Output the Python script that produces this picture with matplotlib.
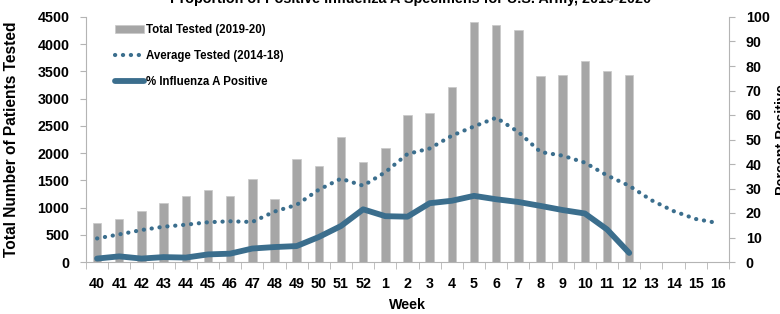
import numpy as np
import matplotlib
matplotlib.use('Agg')
import matplotlib.pyplot as plt

plt.rcParams['font.family'] = ['Liberation Sans', 'DejaVu Sans']
plt.rcParams['font.weight'] = 'bold'

weeks = ['40', '41', '42', '43', '44', '45', '46', '47', '48', '49', '50', '51', '52',
         '1', '2', '3', '4', '5', '6', '7', '8', '9', '10', '11', '12', '13', '14', '15', '16']
total_tested = [710, 785, 940, 1075, 1205, 1320, 1220, 1530, 1165, 1895, 1770, 2300, 1830,
                2090, 2700, 2740, 3220, 4400, 4360, 4270, 3420, 3430, 3690, 3510, 3430]
avg_tested = [433, 507, 587, 648, 685, 730, 748, 735, 926, 1050, 1328, 1531, 1401,
              1650, 1984, 2085, 2320, 2490, 2650, 2388, 2020, 1953, 1825, 1590, 1400,
              1135, 935, 790, 715]
pct_pos = [1.4, 2.3, 1.4, 2.0, 1.8, 3.1, 3.4, 5.5, 6.1, 6.5, 10.2, 14.7, 21.5,
           18.7, 18.5, 24.0, 25.0, 27.0, 25.6, 24.5, 22.9, 21.2, 19.8, 13.3, 3.7]

blue = '#3b6e8d'
grey = '#a6a6a6'
axis_col = '#b4b4b4'
fs = 10.3

fig = plt.figure(figsize=(7.8, 3.14), dpi=100)
ax = fig.add_axes([86/780, 1 - 262/314, (729-86)/780, (262-17)/314])
ax2 = ax.twinx()

x = np.arange(len(weeks))
bars = ax.bar(x[:len(total_tested)], total_tested, width=0.38, color=grey,
              edgecolor='#c8c8c8', linewidth=0.5, zorder=2)
avg_line, = ax.plot(x, avg_tested, color=blue, lw=3, linestyle=(0, (0.05, 1.85)),
                    dash_capstyle='round', zorder=3)
pct_line, = ax2.plot(x[:len(pct_pos)], pct_pos, color=blue, lw=4.2,
                     solid_joinstyle='round', solid_capstyle='round', zorder=4)

ax.set_xlim(-0.5, len(weeks) - 0.5)
ax.set_ylim(0, 4500)
ax2.set_ylim(0, 100)
ax.set_yticks(np.arange(0, 4501, 500))
ax2.set_yticks(np.arange(0, 101, 10))
ax.set_xticks(x)
ax.set_xticklabels(weeks)
ax.set_xticks(np.arange(-0.5, len(weeks)), minor=True)

for a in (ax, ax2):
    for s in a.spines.values():
        s.set_color(axis_col)
    a.spines['top'].set_visible(False)
ax.spines['right'].set_visible(False)
ax2.spines['left'].set_visible(False)
ax2.spines['bottom'].set_visible(False)

ax.tick_params(axis='x', which='major', length=0, pad=11, labelsize=fs)
ax.tick_params(axis='x', which='minor', length=5, color=axis_col)
ax.tick_params(axis='y', length=4, color=axis_col, pad=8, labelsize=fs)
ax2.tick_params(axis='y', length=4, color=axis_col, pad=8, labelsize=fs)

ax.set_xlabel('Week', fontsize=fs, fontweight='bold', labelpad=5)
ylab = ax.set_ylabel('Total Number of Patients Tested', fontsize=fs, fontweight='bold')
ax.yaxis.set_label_coords((19 - 86) / 643, 0.5)
ax2.set_ylabel('Percent Positive', fontsize=fs, fontweight='bold')
ax2.yaxis.set_label_coords((775 - 86) / 643, 0.5)

title = fig.text(411/780, 1 - 3.5/314,
                 'Proportion of Positive Influenza A Specimens for U.S. Army, 2019-2020',
                 ha='center', va='baseline', fontsize=fs, fontweight='bold')

ax2.legend([bars, avg_line, pct_line],
           ['Total Tested (2019-20)', 'Average Tested (2014-18)', '% Influenza A Positive'],
           loc='upper left', bbox_to_anchor=(0.035, 1.0), frameon=False, fontsize=8.3,
           handlelength=2.5, handletextpad=0.15, labelspacing=1.2, borderaxespad=0.2)

# fit title and left label to the lengths seen in the reference
r = fig.canvas.get_renderer()
w = title.get_window_extent(r).width
title.set_fontsize(fs * 482 / w)
h = ylab.get_window_extent(r).height
ylab.set_fontsize(fs * 235 / h)

fig.savefig('out.png', dpi=100)
